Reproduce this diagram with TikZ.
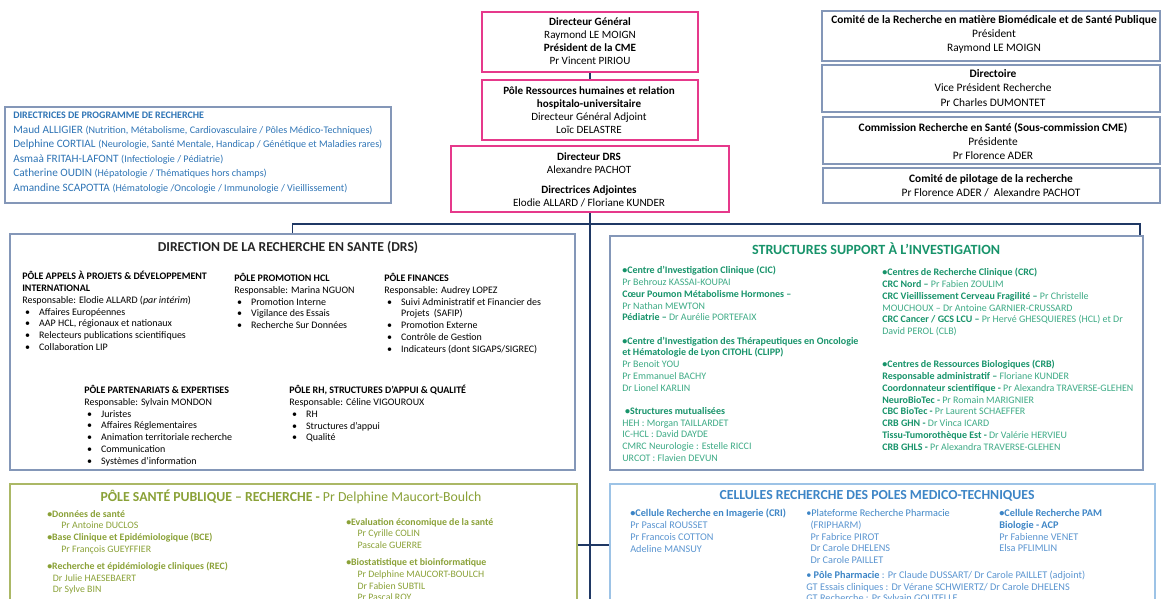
\documentclass[tikz,border=0pt]{standalone}
\usepackage{fontspec}
\setmainfont{Carlito}
\usetikzlibrary{fit}
\definecolor{pinkc}{HTML}{E6398B}
\definecolor{navyc}{HTML}{1F3864}
\definecolor{grayb}{HTML}{8497B8}
\definecolor{textb}{HTML}{2E74B5}
\definecolor{greenc}{HTML}{17936A}
\definecolor{greenl}{HTML}{3DAA85}
\definecolor{olivec}{HTML}{8AA137}
\definecolor{oliveb}{HTML}{ABB866}
\definecolor{cellb}{HTML}{9DC3E6}
\definecolor{cellt}{HTML}{3D85C6}
\definecolor{cellx}{HTML}{5B95D0}
\newcommand{\itm}{\hspace*{2pt}\makebox[10pt][l]{\textbullet}}
\newcommand{\hd}[1]{\textbf{\textcolor{greenc}{#1}}}
\newcommand{\dom}[1]{{\fontsize{7.2}{10}\selectfont(#1)}}
\begin{document}
\begin{tikzpicture}[x=.025cm,y=-.025cm,
 box/.style={inner sep=0pt, fit={#1}},
 pinkbox/.style={box={#1}, draw=pinkc, line width=1.8pt},
 bluebox/.style={box={#1}, draw=grayb, line width=1pt},
 link/.style={draw=navyc, line width=1.3pt},
 txt/.style={inner sep=0pt, align=center, font=\fontsize{7.9}{9.3}\selectfont},
 small/.style={inner sep=0pt, align=left, anchor=north west, font=\fontsize{7.1}{8.4}\selectfont},
 head/.style={inner sep=0pt, font=\fontsize{9.8}{11}\selectfont\bfseries}]
\path[use as bounding box, clip] (0,0) rectangle (1162,598);
\node[pinkbox={(482,12) (698,72)}] (dg) {};
\node[pinkbox={(482,80) (698,140)}] (rh) {};
\node[pinkbox={(451,146) (729,212)}] (dir) {};
\node[bluebox={(822,11) (1160,61)}] (crbsp) {};
\node[bluebox={(822,65) (1160,112)}] (dtoire) {};
\node[bluebox={(823,117) (1160,164)}] (crs) {};
\node[bluebox={(823,168) (1160,203)}] (copil) {};
\node[bluebox={(5,107) (391,203)}] (dpr) {};
\node[bluebox={(10,234) (575,470)}] (drs) {};
\node[bluebox={(610,236) (1143,470)}] (ssi) {};
\node[box={(10,484) (577,640)}, draw=oliveb, line width=1pt] (psp) {};
\node[box={(610,484) (1155,640)}, draw=cellb, line width=1pt] (cel) {};
\coordinate (trunk) at (590,224);
\coordinate (barR) at (1140,224);
\coordinate (low) at (590,545);
\coordinate (foot) at (590,600);
\draw[link] (dg.south -| trunk) -- (rh.north -| trunk);
\draw[link] (dir.south -| trunk) -- (foot);
\draw[link] (drs.north) |- (barR) -- (barR |- ssi.north);
\draw[link] (psp.east |- low) -- (cel.west |- low);
\node[txt] (dgt) at (590,41) {\textbf{Directeur Général}\\Raymond LE MOIGN\\\textbf{Président de la CME}\\Pr Vincent PIRIOU};
\node[txt] (rht) at (589,110) {\textbf{Pôle Ressources humaines et relation}\\\textbf{hospitalo-universitaire}\\Directeur Général Adjoint\\Loïc DELASTRE};
\node[txt] (dirt) at (589,180) {\textbf{Directeur DRS}\\Alexandre PACHOT\\[5pt]\textbf{Directrices Adjointes}\\Elodie ALLARD / Floriane KUNDER};
\node[txt, font=\fontsize{8.1}{10}\selectfont] (crbspt) at (994,34) {\textbf{Comité de la Recherche en matière Biomédicale et de Santé Publique}\\Président\\Raymond LE MOIGN};
\node[txt, font=\fontsize{8.1}{10}\selectfont] (dtoiret) at (993,88) {\textbf{Directoire}\\Vice Président Recherche\\Pr Charles DUMONTET};
\node[txt, font=\fontsize{8.1}{10}\selectfont] (crst) at (993,141) {\textbf{Commission Recherche en Santé (Sous-commission CME)}\\Présidente\\Pr Florence ADER};
\node[txt, font=\fontsize{8.1}{10}\selectfont] (copilt) at (991,186) {\textbf{Comité de pilotage de la recherche}\\Pr Florence ADER /\ \ Alexandre PACHOT};
\node[small, font=\fontsize{8}{10.3}\selectfont, text=textb] (dprt) at (13,112) {{\fontsize{7.1}{10}\selectfont\bfseries DIRECTRICES DE PROGRAMME DE RECHERCHE}\\
Maud ALLIGIER \dom{Nutrition, Métabolisme, Cardiovasculaire / Pôles Médico-Techniques}\\
Delphine CORTIAL \dom{Neurologie, Santé Mentale, Handicap / Génétique et Maladies rares}\\
Asmaà FRITAH-LAFONT \dom{Infectiologie / Pédiatrie}\\
Catherine OUDIN \dom{Hépatologie / Thématiques hors champs}\\
Amandine SCAPOTTA \dom{Hématologie /Oncologie / Immunologie / Vieillissement}};
\node[head, font=\fontsize{9.7}{11}\selectfont\bfseries, text=black!85] (drst) at (288,247) {DIRECTION DE LA RECHERCHE EN SANTE (DRS)};
\node[small] (ap) at (22,271) {\textbf{PÔLE APPELS À PROJETS \& DÉVELOPPEMENT}\\\textbf{INTERNATIONAL}\\Responsable: Elodie ALLARD (\textit{par intérim})\\\itm Affaires Européennes\\\itm AAP HCL, régionaux et nationaux\\\itm Relecteurs publications scientifiques\\\itm Collaboration LIP};
\node[small] (prom) at (234,273) {\textbf{PÔLE PROMOTION HCL}\\Responsable: Marina NGUON\\\itm Promotion Interne\\\itm Vigilance des Essais\\\itm Recherche Sur Données};
\node[small] (fin) at (384,273) {\textbf{PÔLE FINANCES}\\Responsable: Audrey LOPEZ\\\itm Suivi Administratif et Financier des\\\hspace*{12pt}Projets\ \ (SAFIP)\\\itm Promotion Externe\\\itm Contrôle de Gestion\\\itm Indicateurs (dont SIGAPS/SIGREC)};
\node[small] (part) at (84,385) {\textbf{PÔLE PARTENARIATS \& EXPERTISES}\\Responsable: Sylvain MONDON\\\itm Juristes\\\itm Affaires Réglementaires\\\itm Animation territoriale recherche\\\itm Communication\\\itm Systèmes d’information};
\node[small] (rhq) at (289,385) {\textbf{PÔLE RH, STRUCTURES D’APPUI \& QUALITÉ}\\Responsable: Céline VIGOUROUX\\\itm RH\\\itm Structures d’appui\\\itm Qualité};
\node[head, font=\fontsize{10}{11}\selectfont\bfseries, text=greenc] (ssit) at (876,249) {STRUCTURES SUPPORT À L’INVESTIGATION};
\node[small, text=greenl] (cic) at (622,266) {\hd{\textbullet Centre d’Investigation Clinique (CIC)}\\Pr Behrouz KASSAI-KOUPAI\\\hd{Cœur Poumon Métabolisme Hormones –}\\Pr Nathan MEWTON\\\hd{Pédiatrie –} Dr Aurélie PORTEFAIX\\[8pt]
\hd{\textbullet Centre d’Investigation des Thérapeutiques en Oncologie}\\\hd{et Hématologie de Lyon CITOHL (CLIPP)}\\Pr Benoit YOU\\Pr Emmanuel BACHY\\Dr Lionel KARLIN\\[8pt]
\hspace*{2pt}\hd{\textbullet Structures mutualisées}\\HEH : Morgan TAILLARDET\\IC-HCL : David DAYDE\\CMRC Neurologie : Estelle RICCI\\URCOT : Flavien DEVUN};
\node[small, text=greenl] (crc) at (882,268) {\hd{\textbullet Centres de Recherche Clinique (CRC)}\\\hd{CRC Nord –} Pr Fabien ZOULIM\\\hd{CRC Vieillissement Cerveau Fragilité –} Pr Christelle\\MOUCHOUX – Dr Antoine GARNIER-CRUSSARD\\\hd{CRC Cancer / GCS LCU –} Pr Hervé GHESQUIERES (HCL) et Dr\\David PEROL (CLB)\\[15pt]
\hd{\textbullet Centres de Ressources Biologiques (CRB)}\\\hd{Responsable administratif –} Floriane KUNDER\\\hd{Coordonnateur scientifique -} Pr Alexandra TRAVERSE-GLEHEN\\\hd{NeuroBioTec -} Pr Romain MARIGNIER\\\hd{CBC BioTec -} Pr Laurent SCHAEFFER\\\hd{CRB GHN -} Dr Vinca ICARD\\\hd{Tissu-Tumorothèque Est -} Dr Valérie HERVIEU\\\hd{CRB GHLS -} Pr Alexandra TRAVERSE-GLEHEN};
\node[head, text=olivec] (pspt) at (291,497) {\textbf{PÔLE SANTÉ PUBLIQUE – RECHERCHE -} \mdseries Pr Delphine Maucort-Boulch};
\node[small, font=\fontsize{7}{8.3}\selectfont, text=olivec] (psp1) at (47,510) {\textbf{\textbullet Données de santé}\\\hspace*{10pt}Pr Antoine DUCLOS\\\textbf{\textbullet Base Clinique et Epidémiologique (BCE)}\\\hspace*{10pt}Pr François GUEYFFIER\\[4pt]\textbf{\textbullet Recherche et épidémiologie cliniques (REC)}\\\hspace*{4pt}Dr Julie HAESEBAERT\\\hspace*{4pt}Dr Sylve BIN};
\node[small, font=\fontsize{7}{8.3}\selectfont, text=olivec] (psp2) at (346,518) {\textbf{\textbullet Evaluation économique de la santé}\\\hspace*{8pt}Pr Cyrille COLIN\\\hspace*{8pt}Pascale GUERRE\\[4pt]\textbf{\textbullet Biostatistique et bioinformatique}\\\hspace*{8pt}Pr Delphine MAUCORT-BOULCH\\\hspace*{8pt}Dr Fabien SUBTIL\\\hspace*{8pt}Pr Pascal ROY};
\node[head, text=cellt] (celt) at (877,496) {CELLULES RECHERCHE DES POLES MEDICO-TECHNIQUES};
\node[small, font=\fontsize{7.3}{8.4}\selectfont, text=cellx] (cri) at (630,509) {\textbf{\textcolor{cellt}{\textbullet Cellule Recherche en Imagerie (CRI)}}\\Pr Pascal ROUSSET\\Pr Francois COTTON\\Adeline MANSUY};
\node[small, font=\fontsize{7.3}{8.4}\selectfont, text=cellx] (fri) at (806,509) {\textcolor{cellt}{\textbullet Plateforme Recherche Pharmacie}\\\hspace*{3pt}(FRIPHARM)\\\hspace*{3pt}Pr Fabrice PIROT\\\hspace*{3pt}Dr Carole DHELENS\\\hspace*{3pt}Dr Carole PAILLET\\[2pt]\textcolor{cellt}{\textbullet\ \textbf{Pôle Pharmacie}} : Pr Claude DUSSART/ Dr Carole PAILLET (adjoint)\\GT Essais cliniques : Dr Vérane SCHWIERTZ/ Dr Carole DHELENS\\GT Recherche : Pr Sylvain GOUTELLE};
\node[small, font=\fontsize{7.3}{8.4}\selectfont, text=cellx] (pam) at (999,509) {\textbf{\textcolor{cellt}{\textbullet Cellule Recherche PAM}}\\\textbf{\textcolor{cellt}{Biologie - ACP}}\\Pr Fabienne VENET\\Elsa PFLIMLIN};
\end{tikzpicture}
\end{document}
